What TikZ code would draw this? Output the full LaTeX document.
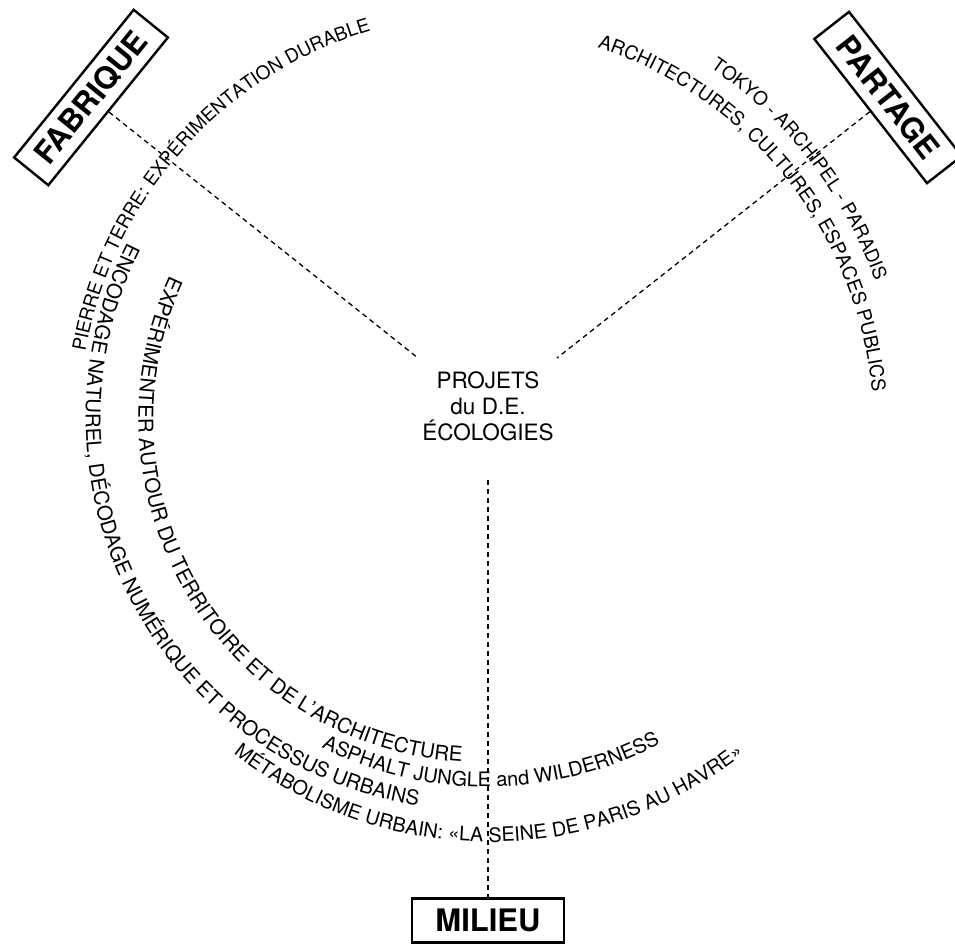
\documentclass[tikz,border=0pt]{standalone}
\usepackage{fontspec}
\setmainfont{TeX Gyre Heros}
\usetikzlibrary{decorations.text}
\newcommand\arcsz[1]{\fontsize{#1}{#1}\selectfont}
\tikzset{
  arctext/.style={decorate, decoration={text along path, text align=center, text={#1}}},
  labelbox/.style={draw, line width=2.4pt, font=\bfseries\fontsize{31}{31}\selectfont, inner sep=0pt, minimum height=44pt},
  dashline/.style={dash pattern=on 5pt off 4pt, line width=1.3pt},
  centertext/.style={align=center, font=\fontsize{22.5}{26}\selectfont, inner sep=0pt}
}
\begin{document}
\begin{tikzpicture}[x=1pt,y=1pt]
\useasboundingbox (0,0) rectangle (955,945);
\fill[white] (0,0) rectangle (955,945);

% arc centres
\coordinate (cA) at (488,523);
\coordinate (cB) at (478,527);
\coordinate (cC) at (482,526);
\coordinate (cD) at (487,525);
\coordinate (cE) at (489,515);
\coordinate (cF) at (464,517);
\coordinate (cG) at (471,515);

% texts along arcs
\path[arctext={|\arcsz{18.8}|PIERRE ET TERRE: EXPÉRIMENTATION DURABLE}]
  ([shift={(172:408.6)}]cA) arc[start angle=172, end angle=104.8, radius=408.6];
\path[arctext={|\arcsz{20.4}|ENCODAGE NATUREL, DÉCODAGE NUMÉRIQUE ET PROCESSUS URBAINS}]
  ([shift={(147:392.2)}]cB) arc[start angle=147, end angle=267.5, radius=392.2];
\path[arctext={|\arcsz{20.5}|EXPÉRIMENTER AUTOUR DU TERRITOIRE ET DE L’ARCHITECTURE}]
  ([shift={(150:343.5)}]cC) arc[start angle=150, end angle=272, radius=343.5];
\path[arctext={|\arcsz{20}|ASPHALT JUNGLE and WILDERNESS}]
  ([shift={(238:367)}]cD) arc[start angle=238, end angle=303.4, radius=367];
\path[arctext={|\arcsz{19.8}|MÉTABOLISME URBAIN: «LA SEINE DE PARIS AU HAVRE»}]
  ([shift={(226:412)}]cE) arc[start angle=226, end angle=313.8, radius=412];
\path[arctext={|\arcsz{18.7}|TOKYO - ARCHIPEL - PARADIS}]
  ([shift={(58:436.5)}]cF) arc[start angle=58, end angle=17.3, radius=436.5];
\path[arctext={|\arcsz{19.2}|ARCHITECTURES, CULTURES, ESPACES PUBLICS}]
  ([shift={(75:403)}]cG) arc[start angle=75, end angle=2.2, radius=403];

% centre
\node[centertext] (ctr) at (488,538.5) {PROJETS\\du D.E.\\ÉCOLOGIES};

% boxes
\node[labelbox, rotate=51, minimum width=190pt] (fab) at (91,847.5) {FABRIQUE};
\node[labelbox, rotate=-52, minimum width=183pt] (par) at (888,847.5) {PARTAGE};
\node[labelbox, minimum width=152pt] (mil) at (488,24.5) {MILIEU};

% connectors
\coordinate (fabEnd) at (418,587);
\coordinate (parEnd) at (557,587);
\coordinate (milEnd) at (488,465);
\draw[dashline] (fab.south) -- (fabEnd);
\draw[dashline] (par.south) -- (parEnd);
\draw[dashline] (milEnd) -- (mil.north);
\end{tikzpicture}
\end{document}
